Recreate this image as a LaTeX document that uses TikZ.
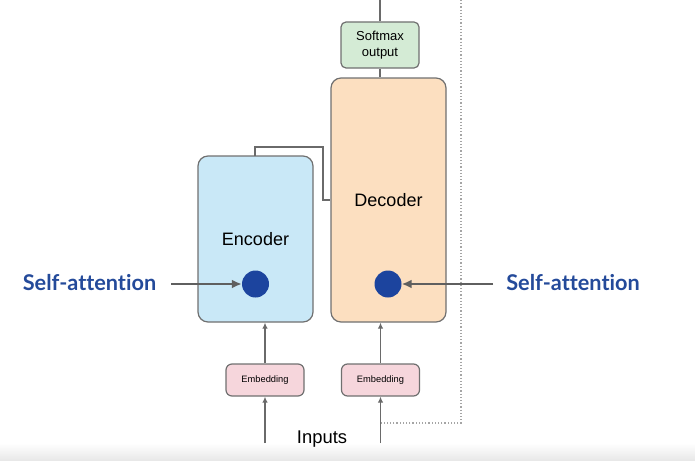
\documentclass[tikz,border=0pt]{standalone}
\usepackage{fontspec}
\setmainfont{Liberation Sans}
\newfontfamily\latofont[Ligatures=NoCommon]{Lato}
\usepackage{xcolor}
\usetikzlibrary{arrows.meta,positioning,shapes}
\definecolor{encfill}{HTML}{C9E8F7}
\definecolor{decfill}{HTML}{FCDFC0}
\definecolor{softfill}{HTML}{D4EBD5}
\definecolor{embfill}{HTML}{F6D6DC}
\definecolor{boxline}{HTML}{707070}
\definecolor{wireline}{HTML}{6A6A6A}
\definecolor{attnblue}{HTML}{1C449E}
\definecolor{labelblue}{HTML}{244A9A}
\tikzstyle{arrow} = [-{Latex[length=6pt,width=5.5pt]}, line width=1.5pt, wireline]

\begin{document}
\begin{tikzpicture}[x=1pt,y=-1pt,
  stackbox/.style={rectangle, draw=boxline, line width=1.2pt, rounded corners=10pt, inner sep=0pt, font=\fontsize{18}{20}\selectfont},
  smallbox/.style={rectangle, draw=boxline, line width=1.2pt, rounded corners=5pt, inner sep=0pt, align=center},
  attndot/.style={circle, fill=attnblue, minimum size=27pt, inner sep=0pt},
  attnlabel/.style={font=\latofont\bfseries\fontsize{21.7}{24}\selectfont, text=labelblue, inner sep=0pt},
  attnarrow/.style={-{Latex[length=10pt,width=9pt]}, line width=2pt, wireline!90!black},
  wire/.style={line width=1.5pt, wireline}]

\useasboundingbox (0,0) rectangle (695,460);
\shade[top color=white, bottom color=black!9] (0,443) rectangle (695,460);

% encoder / decoder stacks
\node[stackbox, fill=encfill, minimum width=115pt, minimum height=166pt] (enc) at (255.5,239) {Encoder};
\node[stackbox, fill=decfill, minimum width=115pt, minimum height=244pt] (dec) at (388.5,200) {Decoder};

\node[smallbox, fill=softfill, minimum width=78pt, minimum height=46pt, font=\fontsize{13}{15.5}\selectfont] (soft) at (380,45) {Softmax\\output};

\node[smallbox, fill=embfill, minimum width=78pt, minimum height=32pt, rounded corners=6pt, font=\fontsize{9.3}{11}\selectfont] (embenc) at (265,380) {Embedding};
\node[smallbox, fill=embfill, minimum width=78pt, minimum height=32pt, rounded corners=6pt, font=\fontsize{9.3}{11}\selectfont] (embdec) at (380.5,380) {Embedding};

\node[font=\fontsize{18.4}{20}\selectfont, inner sep=0pt] (inputs) at (322,439) {Inputs};

% self-attention
\node[attndot] (encdot) at (255.5,284) {};
\node[attndot] (decdot) at (388,284) {};
\node[attnlabel] (lsa) at (89.5,283) {Self-attention};
\node[attnlabel] (rsa) at (573,283) {Self-attention};

\coordinate (lsaend) at (171,284);
\coordinate (rsaend) at (493,284);
\coordinate (enctop) at (255,156);
\coordinate (softin) at (380,0);
\coordinate (encin) at (265,443);
\coordinate (decin) at (380.5,443);
\coordinate (loop) at (461,423);

\draw[attnarrow] (lsaend) -- (encdot);
\draw[attnarrow] (rsaend) -- (decdot);

\draw[wire] (enctop) |- (323,147) |- (dec.west |- 0,200);
\draw[wire] (soft.south) -- (soft.south |- dec.north);
\draw[wire] (soft.north) -- (softin);

\draw[arrow] (encin) -- (embenc);
\draw[arrow] (embenc) -- (embenc |- enc.south);
\draw[arrow] (decin) -- (embdec);
\draw[arrow] (embdec) -- (embdec |- dec.south);

\draw[wireline!60, line width=1.2pt, dotted] (461,0) -- (loop) -- (decin |- loop);
\end{tikzpicture}
\end{document}
